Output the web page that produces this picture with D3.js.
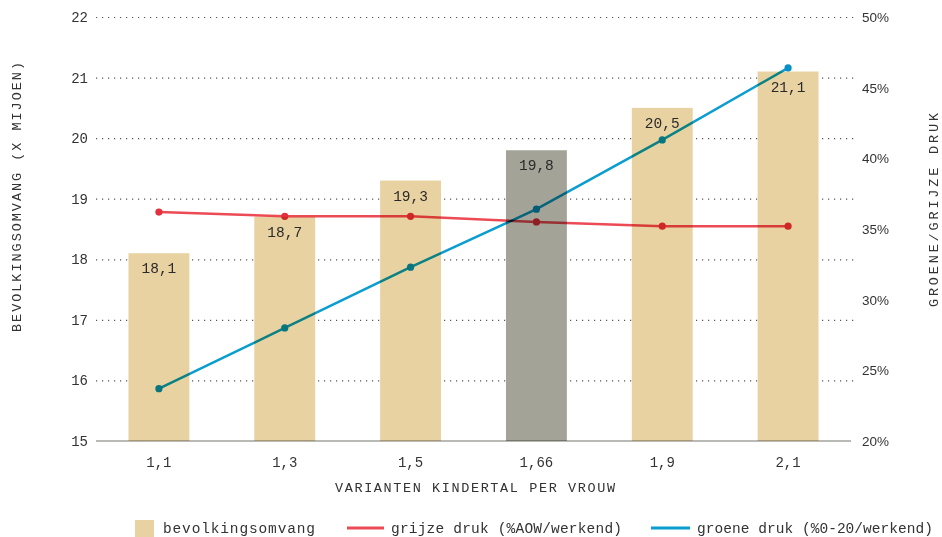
<!DOCTYPE html>
<html>
<head>
<meta charset="utf-8">
<script src="https://cdn.jsdelivr.net/npm/d3@7"></script>
<style>
  html, body { margin: 0; padding: 0; background: #fff; }
  svg { display: block; font-family: "Liberation Mono", "DejaVu Sans Mono", monospace; }
  .line { mix-blend-mode: multiply; }
</style>
</head>
<body>
<svg id="chart" width="942" height="537"></svg>
<script>
// Fertility variants (children per woman)
const categories = ["1,1", "1,3", "1,5", "1,66", "1,9", "2,1"];
// Population size, millions
const bevolking = [18.1, 18.7, 19.3, 19.8, 20.5, 21.1];
// Grey pressure (% AOW / working), green pressure (% 0-20 / working)
const grijzeDruk = [36.2, 35.9, 35.9, 35.5, 35.2, 35.2];
const groeneDruk = [23.7, 28.0, 32.3, 36.4, 41.3, 46.4];
const highlighted = "1,66";
const leftTicks = [15, 16, 17, 18, 19, 20, 21, 22];
const rightTicks = [20, 25, 30, 35, 40, 45, 50];

const svg = d3.select("#chart");
const margin = { left: 96, right: 91, top: 17, bottom: 96 };
const W = 942, H = 537;
const x0 = margin.left, x1 = W - margin.right;
const yTop = margin.top, yBot = H - margin.bottom;

const x = d3.scaleBand().domain(categories).range([x0, x1]).paddingInner(0.516).paddingOuter(0.258);
const yL = d3.scaleLinear().domain([15, 22]).range([yBot, yTop]);
const yR = d3.scaleLinear().domain([20, 50]).range([yBot, yTop]);

const textColor = "#333";

// dotted gridlines
svg.append("g").selectAll("line").data(leftTicks.filter(d => d > 15)).join("line")
  .attr("x1", x0).attr("x2", x1 + 4)
  .attr("y1", d => yL(d) + 0.5).attr("y2", d => yL(d) + 0.5)
  .attr("stroke", "#555").attr("stroke-width", 1.2)
  .attr("stroke-dasharray", "1.2,4.8");

// bars
svg.append("g").selectAll("rect").data(bevolking).join("rect")
  .attr("x", (d, i) => x(categories[i]))
  .attr("width", x.bandwidth())
  .attr("y", d => yL(d))
  .attr("height", d => yBot - yL(d))
  .attr("fill", (d, i) => categories[i] === highlighted ? "#a3a398" : "#e9d2a2");

// baseline
svg.append("line").attr("x1", x0).attr("x2", x1).attr("y1", yBot).attr("y2", yBot)
  .attr("stroke", "#b9b9b6").attr("stroke-width", 2)
  .style("mix-blend-mode", "multiply");

// bar value labels
svg.append("g").selectAll("text").data(bevolking).join("text")
  .attr("x", (d, i) => x(categories[i]) + x.bandwidth() / 2)
  .attr("y", d => yL(d) + 20)
  .attr("text-anchor", "middle")
  .attr("font-size", 14.5).attr("fill", "#2a2a2a")
  .text(d => d3.format(".1f")(d).replace(".", ","));

// lines
const cx = i => x(categories[i]) + x.bandwidth() / 2;
function drawSeries(values, lineColor, dotColor) {
  const g = svg.append("g").attr("class", "line");
  g.append("path").datum(values)
    .attr("d", d3.line().x((d, i) => cx(i)).y(d => yR(d)))
    .attr("fill", "none").attr("stroke", lineColor).attr("stroke-width", 2.5);
  g.selectAll("circle").data(values).join("circle")
    .attr("cx", (d, i) => cx(i)).attr("cy", d => yR(d)).attr("r", 3.6)
    .attr("fill", dotColor);
}
drawSeries(grijzeDruk, "#ec4a55", "#e2303c");
drawSeries(groeneDruk, "#0b9dcf", "#078fc8");

// left axis ticks
svg.append("g").selectAll("text").data(leftTicks).join("text")
  .attr("x", 88).attr("y", d => yL(d) + 5)
  .attr("text-anchor", "end").attr("font-size", 14).attr("fill", textColor)
  .text(d => d);

// right axis ticks
svg.append("g").selectAll("text").data(rightTicks).join("text")
  .attr("x", 862).attr("y", d => yR(d) + 5)
  .attr("text-anchor", "start").attr("font-size", 13.5).attr("fill", textColor)
  .attr("font-family", "'Liberation Sans', Arial, sans-serif")
  .text(d => d + "%");

// x ticks
svg.append("g").selectAll("text").data(categories).join("text")
  .attr("x", d => x(d) + x.bandwidth() / 2).attr("y", 467)
  .attr("text-anchor", "middle").attr("font-size", 14).attr("fill", textColor)
  .text(d => d);

// axis titles
svg.append("text").attr("x", 335).attr("y", 492)
  .attr("font-size", 13.5).attr("fill", textColor)
  .attr("textLength", 280).attr("lengthAdjust", "spacing")
  .text("VARIANTEN KINDERTAL PER VROUW");
svg.append("text").attr("transform", `translate(21,332) rotate(-90)`)
  .attr("font-size", 13.5).attr("fill", textColor)
  .attr("textLength", 270).attr("lengthAdjust", "spacing")
  .text("BEVOLKINGSOMVANG (X MIJOEN)");
svg.append("text").attr("transform", `translate(938,307) rotate(-90)`)
  .attr("font-size", 13.5).attr("fill", textColor)
  .attr("textLength", 194).attr("lengthAdjust", "spacing")
  .text("GROENE/GRIJZE DRUK");

// legend
const lg = svg.append("g").attr("font-size", 14.5).attr("fill", textColor);
lg.append("rect").attr("x", 135).attr("y", 520).attr("width", 19).attr("height", 17).attr("fill", "#e9d2a2");
lg.append("text").attr("x", 163).attr("y", 533)
  .attr("textLength", 152).attr("lengthAdjust", "spacing").text("bevolkingsomvang");
lg.append("line").attr("x1", 347).attr("x2", 384).attr("y1", 528).attr("y2", 528)
  .attr("stroke", "#ec4a55").attr("stroke-width", 3);
lg.append("text").attr("x", 391).attr("y", 533)
  .attr("textLength", 231).attr("lengthAdjust", "spacing").text("grijze druk (%AOW/werkend)");
lg.append("line").attr("x1", 651).attr("x2", 690).attr("y1", 528).attr("y2", 528)
  .attr("stroke", "#0b9dcf").attr("stroke-width", 3);
lg.append("text").attr("x", 697).attr("y", 533)
  .attr("textLength", 236).attr("lengthAdjust", "spacing").text("groene druk (%0-20/werkend)");
</script>
</body>
</html>
